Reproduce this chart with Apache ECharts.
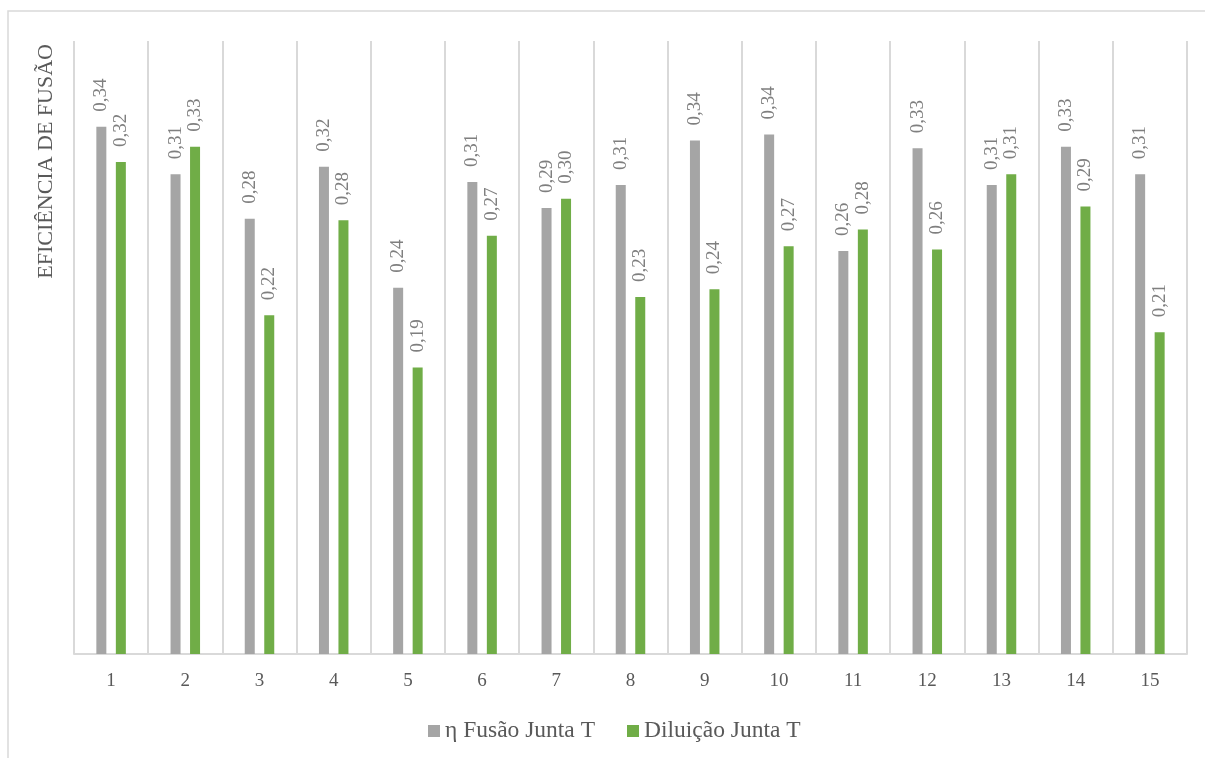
<!DOCTYPE html>
<html>
<head>
<meta charset="utf-8">
<title>Eficiência de fusão</title>
<script src="https://cdn.jsdelivr.net/npm/echarts@6/dist/echarts.min.js"></script>
<style>
  html, body { margin: 0; padding: 0; background: #fff; }
  #main { width: 1205px; height: 758px; }
</style>
</head>
<body>
<div id="main"></div>
<script>
// dados
var categorias = ['1', '2', '3', '4', '5', '6', '7', '8', '9', '10', '11', '12', '13', '14', '15'];
var fusaoJuntaT = [0.344, 0.313, 0.284, 0.318, 0.239, 0.308, 0.291, 0.306, 0.335, 0.339, 0.263, 0.330, 0.306, 0.331, 0.313];
var diluicaoJuntaT = [0.321, 0.331, 0.221, 0.283, 0.187, 0.273, 0.297, 0.233, 0.238, 0.266, 0.277, 0.264, 0.313, 0.292, 0.210];
var nomesSeries = ['η Fusão Junta T', 'Diluição Junta T'];
var tituloEixoY = 'EFICIÊNCIA DE FUSÃO';

var fonte = 'Liberation Serif';

function rotulo(p) {
	return p.value.toFixed(2).replace('.', ',');
}

var dom = document.getElementById("main");
var myChart = echarts.init(dom);
var option = {
	animation: false,
	backgroundColor: '#ffffff',
	textStyle: { fontFamily: fonte },
	grid: {
		left: 74,
		right: 18,
		top: 41,
		bottom: 104
	},
	legend: {
		data: nomesSeries,
		left: 423,
		top: 714,
		icon: 'rect',
		itemWidth: 12,
		itemHeight: 12,
		itemGap: 32,
		textStyle: {
			fontFamily: fonte,
			fontSize: 23.5,
			color: '#595959'
		}
	},
	graphic: [
		{
			type: 'rect',
			silent: true,
			shape: { x: 8, y: 11, width: 1240, height: 800 },
			style: { fill: 'none', stroke: '#d9d9d9', lineWidth: 1.5 }
		},
		{
			type: 'text',
			silent: true,
			x: 46,
			y: 44,
			rotation: Math.PI / 2,
			style: {
				text: tituloEixoY,
				textAlign: 'right',
				textVerticalAlign: 'middle',
				fontFamily: fonte,
				fontSize: 22,
				fill: '#595959'
			}
		}
	],
	xAxis: {
		type: 'category',
		data: categorias,
		axisLine: { lineStyle: { color: '#d9d9d9', width: 2 } },
		axisTick: { show: false },
		axisLabel: {
			margin: 18,
			fontFamily: fonte,
			fontSize: 19,
			color: '#595959'
		},
		splitLine: {
			show: true,
			lineStyle: { color: '#d9d9d9', width: 2 }
		}
	},
	yAxis: {
		type: 'value',
		min: 0,
		max: 0.4,
		show: false,
		splitLine: { show: false }
	},
	series: [
		{
			name: nomesSeries[0],
			type: 'bar',
			data: fusaoJuntaT,
			barWidth: 10,
			barGap: '95%',
			itemStyle: { color: '#a5a5a5' },
			label: {
				show: true,
				position: 'top',
				rotate: 90,
				align: 'left',
				verticalAlign: 'middle',
				distance: 15,
				fontFamily: fonte,
				fontSize: 19,
				color: '#7f7f7f',
				formatter: rotulo
			}
		},
		{
			name: nomesSeries[1],
			type: 'bar',
			data: diluicaoJuntaT,
			barWidth: 10,
			barGap: '95%',
			itemStyle: { color: '#70ad47' },
			label: {
				show: true,
				position: 'top',
				rotate: 90,
				align: 'left',
				verticalAlign: 'middle',
				distance: 15,
				fontFamily: fonte,
				fontSize: 19,
				color: '#7f7f7f',
				formatter: rotulo
			}
		}
	]
};
myChart.setOption(option, true);
</script>
</body>
</html>
